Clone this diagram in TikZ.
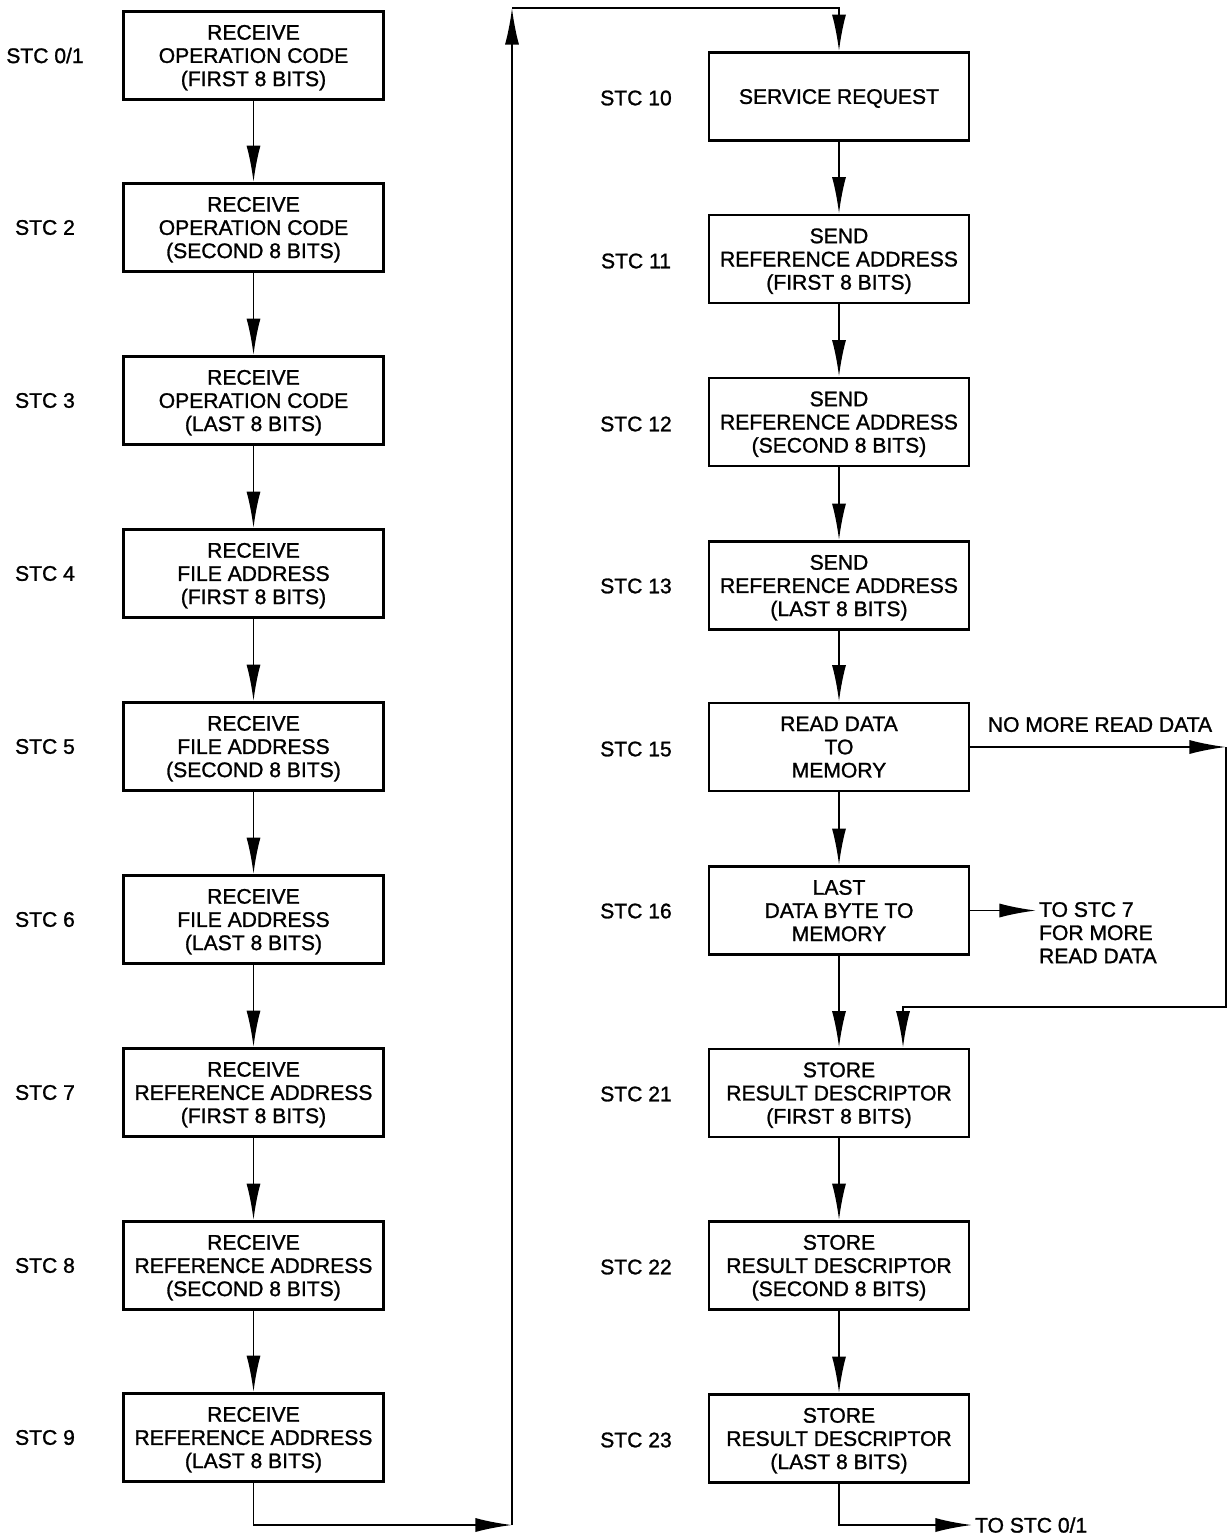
\documentclass[tikz,border=0pt]{standalone}
\usepackage{fontspec}
\setmainfont[BoldFont=Liberation Sans, BoldFeatures={FakeBold=1.2}]{Liberation Sans}
\usetikzlibrary{arrows.meta, positioning}

\begin{document}
\begin{tikzpicture}[x=0.025cm, y=-0.025cm,
  stcbox/.style={draw, line width=2pt, minimum width=6.5cm, minimum height=2.2cm,
    align=center, inner sep=2pt, text depth=0pt, font=\fontsize{15}{16.5}\selectfont\bfseries},
  stclbl/.style={font=\fontsize{15}{16.5}\selectfont\bfseries},
  flow/.style={line width=1.4pt, -{Latex[length=26pt, width=10pt]}}]

  \useasboundingbox (0,0) rectangle (1230,1535);

  % Left column: receive states
  \node[stcbox] (l1) at (253.5, 55.5) {RECEIVE\\OPERATION CODE\\(FIRST 8 BITS)};
  \node[stcbox] (l2) at (253.5, 227.5) {RECEIVE\\OPERATION CODE\\(SECOND 8 BITS)};
  \node[stcbox] (l3) at (253.5, 400.5) {RECEIVE\\OPERATION CODE\\(LAST 8 BITS)};
  \node[stcbox] (l4) at (253.5, 573.5) {RECEIVE\\FILE ADDRESS\\(FIRST 8 BITS)};
  \node[stcbox] (l5) at (253.5, 746.5) {RECEIVE\\FILE ADDRESS\\(SECOND 8 BITS)};
  \node[stcbox] (l6) at (253.5, 919.5) {RECEIVE\\FILE ADDRESS\\(LAST 8 BITS)};
  \node[stcbox] (l7) at (253.5, 1092.5) {RECEIVE\\REFERENCE ADDRESS\\(FIRST 8 BITS)};
  \node[stcbox] (l8) at (253.5, 1265.5) {RECEIVE\\REFERENCE ADDRESS\\(SECOND 8 BITS)};
  \node[stcbox] (l9) at (253.5, 1437.5) {RECEIVE\\REFERENCE ADDRESS\\(LAST 8 BITS)};

  % Left state labels
  \node[stclbl] (s1) at (45, 55.5) {STC 0/1};
  \node[stclbl] (s2) at (45, 227.5) {STC 2};
  \node[stclbl] (s3) at (45, 400.5) {STC 3};
  \node[stclbl] (s4) at (45, 573.5) {STC 4};
  \node[stclbl] (s5) at (45, 746.5) {STC 5};
  \node[stclbl] (s6) at (45, 919.5) {STC 6};
  \node[stclbl] (s7) at (45, 1092.5) {STC 7};
  \node[stclbl] (s8) at (45, 1265.5) {STC 8};
  \node[stclbl] (s9) at (45, 1437.5) {STC 9};

  % Right column: send, read and store states
  \node[stcbox] (r1) at (839, 96.5) {SERVICE REQUEST};
  \node[stcbox] (r2) at (839, 259) {SEND\\REFERENCE ADDRESS\\(FIRST 8 BITS)};
  \node[stcbox] (r3) at (839, 422) {SEND\\REFERENCE ADDRESS\\(SECOND 8 BITS)};
  \node[stcbox] (r4) at (839, 585.5) {SEND\\REFERENCE ADDRESS\\(LAST 8 BITS)};
  \node[stcbox] (r5) at (839, 747) {READ DATA\\TO\\MEMORY};
  \node[stcbox] (r6) at (839, 910.5) {LAST\\DATA BYTE TO\\MEMORY};
  \node[stcbox] (r7) at (839, 1093) {STORE\\RESULT DESCRIPTOR\\(FIRST 8 BITS)};
  \node[stcbox] (r8) at (839, 1265.5) {STORE\\RESULT DESCRIPTOR\\(SECOND 8 BITS)};
  \node[stcbox] (r9) at (839, 1438.5) {STORE\\RESULT DESCRIPTOR\\(LAST 8 BITS)};

  % Right state labels
  \node[stclbl] (t1) at (636, 98) {STC 10};
  \node[stclbl] (t2) at (636, 261) {STC 11};
  \node[stclbl] (t3) at (636, 424) {STC 12};
  \node[stclbl] (t4) at (636, 586) {STC 13};
  \node[stclbl] (t5) at (636, 749) {STC 15};
  \node[stclbl] (t6) at (636, 911) {STC 16};
  \node[stclbl] (t7) at (636, 1094) {STC 21};
  \node[stclbl] (t8) at (636, 1267) {STC 22};
  \node[stclbl] (t9) at (636, 1440) {STC 23};

  % Straight flow down each column
  \draw[flow] (l1) -- (l2);
  \draw[flow] (l2) -- (l3);
  \draw[flow] (l3) -- (l4);
  \draw[flow] (l4) -- (l5);
  \draw[flow] (l5) -- (l6);
  \draw[flow] (l6) -- (l7);
  \draw[flow] (l7) -- (l8);
  \draw[flow] (l8) -- (l9);
  \draw[flow] (r1) -- (r2);
  \draw[flow] (r2) -- (r3);
  \draw[flow] (r3) -- (r4);
  \draw[flow] (r4) -- (r5);
  \draw[flow] (r5) -- (r6);
  \draw[flow] (r6) -- (r7);
  \draw[flow] (r7) -- (r8);
  \draw[flow] (r8) -- (r9);

  % Cross-over from STC 9 to STC 10
  \coordinate (lowturn) at (512, 1525);
  \coordinate (topturn) at (512, 8);
  \draw[flow] (l9.south) |- (lowturn);
  \draw[flow] (lowturn) -- (topturn);
  \draw[flow] (topturn) -| (r1.north);

  % No more read data: skip to STC 21
  \coordinate (nomore) at (1226, 747);
  \coordinate (loopcorner) at (1226, 1007);
  \node[stclbl, anchor=south] (nomorelbl) at (1100, 737) {NO MORE READ DATA};
  \draw[flow] (r5.east) -- (nomore);
  \draw[flow] (nomore) -- (loopcorner) -| ([xshift=1.6cm]r7.north);

  % More read data: back to STC 7
  \node[stclbl, anchor=north west, align=left, inner sep=2pt] (tostc7) at (1036, 899)
    {TO STC 7\\FOR MORE\\READ DATA};
  \draw[flow] (r6.east) -- (tostc7.west |- r6.east);

  % End: back to STC 0/1
  \node[stclbl, anchor=west, inner sep=2pt] (tostc01) at (972, 1525) {TO STC 0/1};
  \draw[flow] (r9.south) |- (tostc01.west);
\end{tikzpicture}
\end{document}
